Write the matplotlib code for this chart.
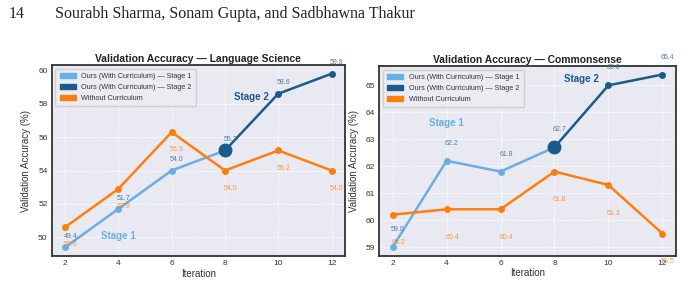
import numpy as np
import matplotlib.pyplot as plt
from matplotlib.patches import Patch

plt.rcParams['font.family'] = ['Liberation Sans', 'DejaVu Sans']

iters = [2, 4, 6, 8, 10, 12]
stage1_x = [2, 4, 6, 8]
stage2_x = [8, 10, 12]

# Language Science
ls_stage1 = [49.4, 51.7, 54.0, 55.2]
ls_stage2 = [55.2, 58.6, 59.8]
ls_base = [50.6, 52.9, 56.3, 54.0, 55.2, 54.0]

# Commonsense
cs_stage1 = [59.0, 62.2, 61.8, 62.7]
cs_stage2 = [62.7, 65.0, 65.4]
cs_base = [60.2, 60.4, 60.4, 61.8, 61.3, 59.5]

c1 = '#6aaee6'
c2 = '#1b5a8c'
c3 = '#ff7f0e'
lblblue = '#3a70a4'

panels = [
    ('Validation Accuracy \u2014 Language Science', ls_stage1, ls_stage2, ls_base,
     [0.0758, 0.0986, 0.430, 0.6725], np.arange(50, 61, 2), (4, 50.1), (9, 58.4)),
    ('Validation Accuracy \u2014 Commonsense', cs_stage1, cs_stage2, cs_base,
     [0.556, 0.0999, 0.435, 0.668], np.arange(59, 66, 1), (4, 63.6), (9, 65.25)),
]

fig = plt.figure(figsize=(6.82, 2.84), dpi=100)
fig.text(0.012, 0.935, '14', family='Liberation Serif', fontsize=11.5, color='#222222')
fig.text(0.08, 0.935, 'Sourabh Sharma, Sonam Gupta, and Sadbhawna Thakur',
         family='Liberation Serif', fontsize=11.5, color='#222222')

for title, s1, s2, base, rect, yt, p1, p2 in panels:
    ax = fig.add_axes(rect)
    ax.set_facecolor('#e9e9f1')
    ax.grid(True, color='white', linestyle='--', linewidth=0.5)
    ax.set_axisbelow(True)
    for sp in ax.spines.values():
        sp.set_color('#333333')
        sp.set_linewidth(1.3)

    ax.plot(stage1_x, s1, color=c1, lw=1.8, marker='o', ms=4, zorder=3)
    ax.plot(stage2_x, s2, color=c2, lw=1.8, marker='o', ms=4, zorder=3)
    ax.plot(iters, base, color=c3, lw=1.8, marker='o', ms=4, zorder=3)
    ax.plot([8], [s1[-1]], 'o', color=c2, ms=9, zorder=4)

    ours = s1[:-1] + s2
    for x, y in zip(iters, ours):
        ax.text(x + 0.2, y + 0.65, f'{y:.1f}', color=lblblue, fontsize=5, ha='center', va='center', alpha=0.9)
    for x, y in zip(iters, base):
        ax.text(x + 0.2, y - 1.05, f'{y:.1f}', color=c3, fontsize=5, ha='center', va='center', alpha=0.8)

    ax.text(p1[0], p1[1], 'Stage 1', color=c1, fontsize=7, fontweight='bold', ha='center', va='center')
    ax.text(p2[0], p2[1], 'Stage 2', color=c2, fontsize=7, fontweight='bold', ha='center', va='center')

    ax.set_xlim(1.5, 12.5)
    ax.set_xticks(iters)
    ax.set_yticks(yt)
    ax.tick_params(labelsize=6, colors='#333333', length=0, pad=3)
    ax.set_xlabel('Iteration', fontsize=7, color='#333333', labelpad=1)
    ax.set_ylabel('Validation Accuracy (%)', fontsize=7, color='#333333', labelpad=5)
    ax.set_title(title, fontsize=7.5, fontweight='bold', color='#222222', pad=2)

    handles = [Patch(facecolor=c1, edgecolor=c1), Patch(facecolor=c2, edgecolor=c2), Patch(facecolor=c3, edgecolor=c3)]
    ax.legend(handles, ['Ours (With Curriculum) \u2014 Stage 1', 'Ours (With Curriculum) \u2014 Stage 2',
                        'Without Curriculum'], loc='upper left', fontsize=5.2, frameon=True,
              facecolor='#ececf3', edgecolor='#cccccc', framealpha=0.9, handlelength=2.2,
              handleheight=0.8, borderpad=0.6, labelspacing=0.5, labelcolor='#333333')

fig.savefig('out.png', dpi=100)
